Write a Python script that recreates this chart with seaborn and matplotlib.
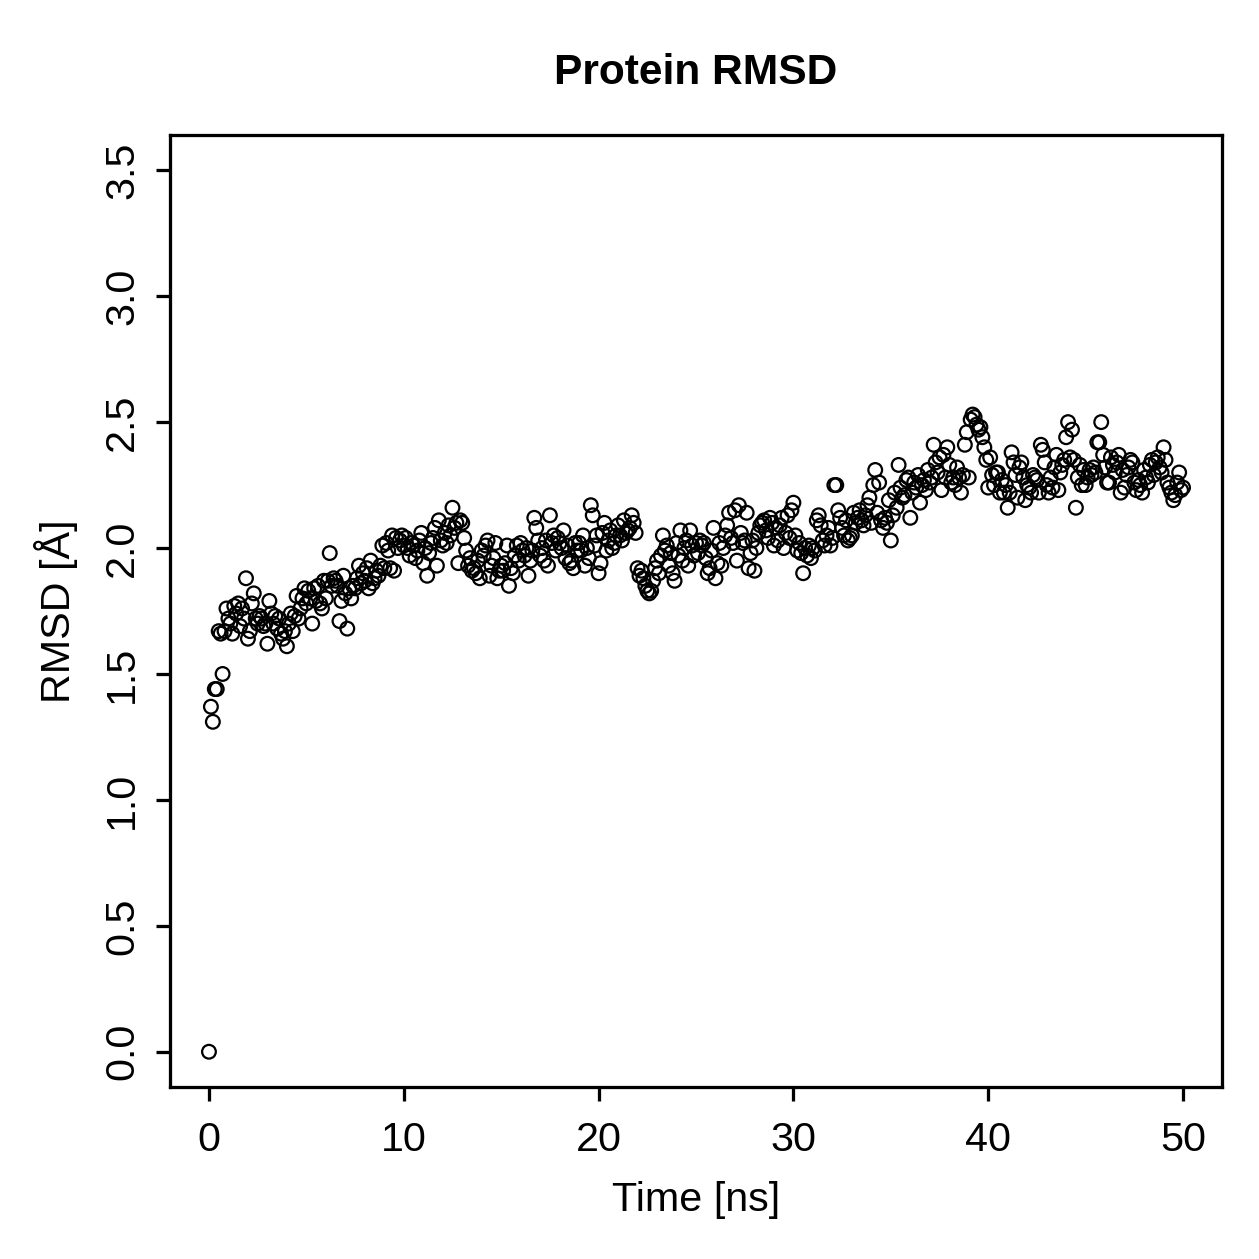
import numpy as np
import pandas as pd
import matplotlib
matplotlib.use("Agg")
import matplotlib.pyplot as plt
import seaborn as sns

# RMSD values (Å), one per 0.1 ns, rows = 1 ns each
rmsd_rows = [
    [0.00, 1.37, 1.31, 1.44, 1.44, 1.67, 1.66, 1.50, 1.67, 1.76],
    [1.72, 1.70, 1.66, 1.77, 1.74, 1.78, 1.69, 1.76, 1.72, 1.88],
    [1.64, 1.67, 1.78, 1.82, 1.72, 1.70, 1.73, 1.72, 1.69, 1.70],
    [1.62, 1.79, 1.74, 1.70, 1.73, 1.68, 1.72, 1.66, 1.64, 1.67],
    [1.61, 1.70, 1.74, 1.67, 1.73, 1.81, 1.72, 1.76, 1.80, 1.84],
    [1.78, 1.83, 1.80, 1.70, 1.84, 1.79, 1.85, 1.78, 1.76, 1.87],
    [1.80, 1.87, 1.98, 1.85, 1.88, 1.87, 1.85, 1.71, 1.79, 1.89],
    [1.82, 1.68, 1.84, 1.80, 1.85, 1.84, 1.88, 1.93, 1.86, 1.90],
    [1.87, 1.92, 1.84, 1.95, 1.86, 1.88, 1.91, 1.89, 1.93, 2.01],
    [1.92, 2.02, 1.99, 1.92, 2.05, 1.91, 2.04, 2.00, 2.03, 2.05],
    [2.01, 2.04, 2.00, 1.97, 2.02, 2.01, 1.96, 1.99, 2.03, 2.06],
    [1.94, 2.00, 1.89, 1.98, 2.02, 2.04, 2.08, 1.93, 2.11, 2.03],
    [2.01, 2.06, 2.02, 2.09, 2.05, 2.16, 2.08, 2.10, 1.94, 2.11],
    [2.10, 2.04, 1.99, 1.93, 1.96, 1.91, 1.92, 1.90, 1.95, 1.88],
    [1.99, 1.97, 2.01, 2.03, 1.89, 1.93, 1.96, 2.02, 1.88, 1.91],
    [1.93, 1.91, 1.94, 2.01, 1.85, 1.92, 1.90, 1.97, 2.01, 1.95],
    [2.02, 1.99, 1.97, 2.00, 1.89, 1.95, 1.99, 2.12, 2.08, 2.03],
    [1.97, 2.00, 1.95, 2.03, 1.93, 2.13, 2.02, 2.05, 1.99, 2.04],
    [2.02, 2.00, 2.07, 1.96, 2.01, 1.94, 1.95, 1.92, 2.02, 1.99],
    [2.02, 1.99, 2.05, 1.93, 2.00, 1.96, 2.17, 2.13, 2.01, 2.05],
    [1.90, 1.94, 2.06, 2.10, 1.99, 2.03, 2.07, 2.00, 2.02, 2.05],
    [2.09, 2.05, 2.03, 2.11, 2.06, 2.07, 2.08, 2.13, 2.10, 2.06],
    [1.92, 1.89, 1.91, 1.88, 1.85, 1.83, 1.82, 1.83, 1.87, 1.92],
    [1.95, 1.90, 1.97, 2.05, 1.99, 2.01, 1.93, 1.98, 1.90, 1.87],
    [2.02, 1.97, 2.07, 1.95, 2.00, 2.03, 1.93, 2.07, 2.01, 1.97],
    [2.02, 1.98, 2.03, 2.01, 2.02, 1.96, 1.90, 1.92, 1.99, 2.08],
    [1.88, 1.94, 2.02, 1.93, 2.00, 2.05, 2.09, 2.14, 2.04, 2.02],
    [2.15, 1.95, 2.17, 2.06, 2.02, 2.03, 2.14, 1.92, 1.98, 2.03],
    [1.91, 2.00, 2.06, 2.09, 2.10, 2.11, 2.07, 2.04, 2.12, 2.10],
    [2.01, 2.08, 2.03, 2.09, 2.12, 2.00, 2.06, 2.13, 2.04, 2.15],
    [2.18, 2.05, 1.99, 2.02, 1.98, 1.90, 2.00, 1.97, 2.01, 1.96],
    [2.00, 1.99, 2.11, 2.13, 2.09, 2.03, 2.01, 2.05, 2.08, 2.01],
    [2.04, 2.25, 2.25, 2.15, 2.12, 2.08, 2.05, 2.11, 2.03, 2.04],
    [2.05, 2.14, 2.10, 2.12, 2.15, 2.11, 2.09, 2.13, 2.17, 2.20],
    [2.10, 2.25, 2.31, 2.14, 2.26, 2.11, 2.08, 2.12, 2.10, 2.19],
    [2.03, 2.13, 2.22, 2.16, 2.33, 2.24, 2.20, 2.21, 2.27, 2.28],
    [2.12, 2.22, 2.26, 2.24, 2.29, 2.18, 2.25, 2.27, 2.23, 2.31],
    [2.26, 2.28, 2.41, 2.34, 2.30, 2.36, 2.23, 2.37, 2.28, 2.40],
    [2.33, 2.26, 2.28, 2.25, 2.32, 2.28, 2.22, 2.29, 2.41, 2.46],
    [2.28, 2.51, 2.53, 2.52, 2.49, 2.47, 2.48, 2.44, 2.40, 2.35],
    [2.24, 2.36, 2.29, 2.25, 2.30, 2.30, 2.22, 2.27, 2.22, 2.25],
    [2.16, 2.22, 2.38, 2.34, 2.29, 2.20, 2.32, 2.34, 2.28, 2.19],
    [2.25, 2.24, 2.22, 2.29, 2.28, 2.27, 2.22, 2.41, 2.39, 2.34],
    [2.25, 2.22, 2.28, 2.24, 2.32, 2.37, 2.23, 2.30, 2.33, 2.35],
    [2.44, 2.50, 2.36, 2.47, 2.35, 2.16, 2.28, 2.33, 2.25, 2.31],
    [2.25, 2.28, 2.31, 2.29, 2.32, 2.30, 2.42, 2.42, 2.50, 2.37],
    [2.32, 2.26, 2.26, 2.36, 2.33, 2.30, 2.34, 2.37, 2.22, 2.31],
    [2.24, 2.29, 2.32, 2.35, 2.34, 2.26, 2.23, 2.27, 2.25, 2.22],
    [2.31, 2.28, 2.26, 2.33, 2.35, 2.29, 2.34, 2.36, 2.32, 2.30],
    [2.40, 2.35, 2.26, 2.24, 2.22, 2.19, 2.21, 2.26, 2.30, 2.23],
]
rmsd_last = [2.24]

rmsd = [v for row in rmsd_rows for v in row] + rmsd_last
time_ns = [i / 10 for i in range(len(rmsd))]

x_ticks = [0, 10, 20, 30, 40, 50]
y_ticks = [0.0, 0.5, 1.0, 1.5, 2.0, 2.5, 3.0, 3.5]

df = pd.DataFrame({"Time": time_ns, "RMSD": rmsd})

sns.set_style("white")
plt.rcParams["font.family"] = ["Liberation Sans", "DejaVu Sans"]
plt.rcParams["text.color"] = "black"
plt.rcParams["axes.labelcolor"] = "black"

fig = plt.figure(figsize=(1259 / 180, 1259 / 180), dpi=180)
ax = fig.add_axes([170 / 1259, 1 - 1087 / 1259, (1222 - 170) / 1259, (1087 - 135) / 1259])

sns.scatterplot(data=df, x="Time", y="RMSD", ax=ax, marker="o", s=30,
                facecolors="none", edgecolor="black", linewidth=0.9)

ax.set_xlim(-2, 52)
ax.set_ylim(-0.14, 3.64)
ax.set_xticks(x_ticks)
ax.set_xticklabels([str(t) for t in x_ticks])
ax.set_yticks(y_ticks)
ax.set_yticklabels([f"{t:.1f}" for t in y_ticks], rotation=90, va="center")

for sp in ax.spines.values():
    sp.set_visible(True)
    sp.set_color("black")
    sp.set_linewidth(1.3)

ax.tick_params(axis="both", direction="out", length=5.5, width=1.3, color="black",
               labelsize=16.5, labelcolor="black", bottom=True, left=True)
ax.tick_params(axis="x", pad=8)
ax.tick_params(axis="y", pad=6)

ax.set_xlabel("Time [ns]", fontsize=16.5, labelpad=9, color="black")
ax.set_ylabel("RMSD [Å]", fontsize=16.5, labelpad=10, color="black")
ax.set_title("Protein RMSD", fontsize=17, fontweight="bold", pad=20.5, color="black")

fig.savefig("out.png", dpi=180)
